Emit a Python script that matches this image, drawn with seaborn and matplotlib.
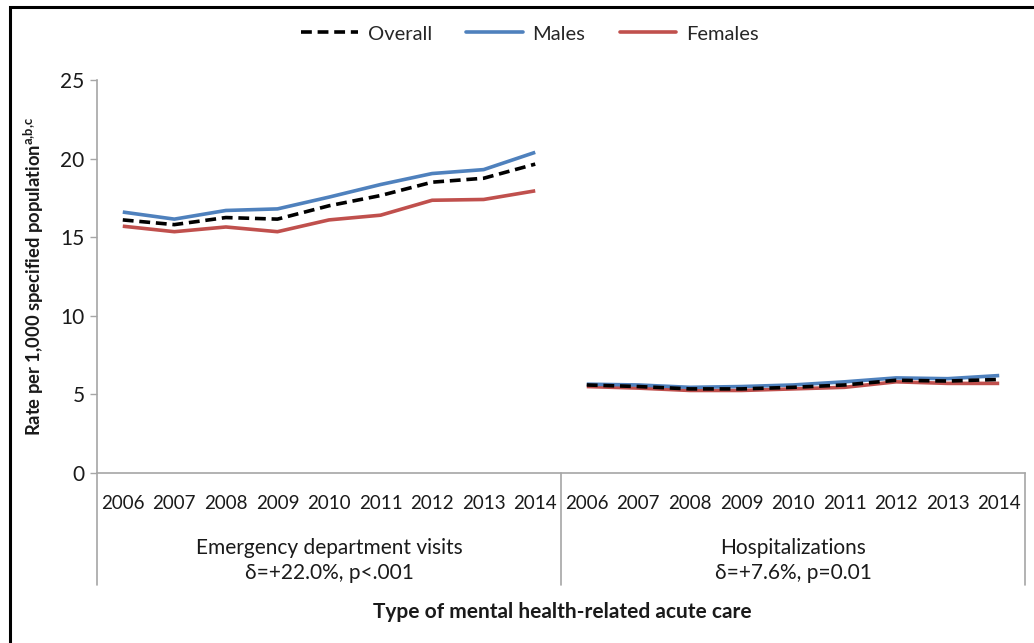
"""Mental health-related acute care rates by sex, 2006-2014."""

import matplotlib.pyplot as plt
from matplotlib.lines import Line2D
from matplotlib.patches import Rectangle
from matplotlib.transforms import blended_transform_factory
import pandas as pd
import seaborn as sns

# ── Data ─────────────────────────────────────────────────────────────
years = [2006, 2007, 2008, 2009, 2010, 2011, 2012, 2013, 2014]
groups = ["Emergency department visits", "Hospitalizations"]
group_notes = ["δ=+22.0%, p<.001", "δ=+7.6%, p=0.01"]
series = ["Overall", "Males", "Females"]

ed_overall = [16.1, 15.8, 16.25, 16.15, 17.0, 17.65, 18.5, 18.75, 19.65]
ed_males = [16.6, 16.15, 16.7, 16.8, 17.55, 18.35, 19.05, 19.3, 20.4]
ed_females = [15.7, 15.35, 15.65, 15.35, 16.1, 16.4, 17.35, 17.4, 17.95]

hosp_overall = [5.6, 5.5, 5.35, 5.35, 5.45, 5.6, 5.9, 5.85, 5.95]
hosp_males = [5.65, 5.6, 5.45, 5.5, 5.6, 5.8, 6.05, 6.0, 6.2]
hosp_females = [5.5, 5.4, 5.25, 5.25, 5.35, 5.45, 5.8, 5.7, 5.7]

values = {
    (groups[0], "Overall"): ed_overall,
    (groups[0], "Males"): ed_males,
    (groups[0], "Females"): ed_females,
    (groups[1], "Overall"): hosp_overall,
    (groups[1], "Males"): hosp_males,
    (groups[1], "Females"): hosp_females,
}

# ── Styling ──────────────────────────────────────────────────────────
COLORS = {"Overall": "black", "Males": "#4F81BD", "Females": "#C0504D"}
DASHES = {"Overall": (3, 1.6), "Males": "", "Females": ""}
GRAY = "#A6A6A6"
TXT = "#1a1a1a"
FONT = ["Lato", "DejaVu Sans"]

sns.set_theme(style="white")
plt.rcParams["font.family"] = FONT

rows = []
for gi, g in enumerate(groups):
    for s in series:
        for yi, (yr, v) in enumerate(zip(years, values[(g, s)])):
            rows.append({"group": g, "series": s, "pos": gi * len(years) + yi,
                         "year": yr, "rate": v})
df = pd.DataFrame(rows)

fig = plt.figure(figsize=(10.34, 6.43), dpi=100)
ax = fig.add_axes([97 / 1034, 1 - 473 / 643, 928 / 1034, 393 / 643])

# females, males, then overall on top; one line per (series, group)
for s in ["Females", "Males", "Overall"]:
    for g in groups:
        sub = df[(df["series"] == s) & (df["group"] == g)]
        sns.lineplot(data=sub, x="pos", y="rate", ax=ax, color=COLORS[s],
                     linewidth=2.6, estimator=None, legend=False,
                     dashes=False)
        line = ax.lines[-1]
        if DASHES[s]:
            line.set_dashes(DASHES[s])
        line.set_solid_capstyle("butt")

n = len(years) * len(groups)
ax.set_xlim(-0.5, n - 0.5)
ax.set_ylim(0, 25)
ax.set_yticks(range(0, 26, 5))
ax.tick_params(axis="y", length=5, width=1, color=GRAY, direction="out",
               labelsize=15, labelcolor=TXT, pad=4, left=True)
ax.set_xticks(range(n))
ax.set_xticklabels([str(y) for y in years] * len(groups))
ax.tick_params(axis="x", length=0, labelsize=13.5, labelcolor=TXT, pad=16)
ax.set_xlabel("")

for sp in ("top", "right"):
    ax.spines[sp].set_visible(False)
for sp in ("left", "bottom"):
    ax.spines[sp].set_color(GRAY)
    ax.spines[sp].set_linewidth(1.2)

# group divider lines below the category axis
trans = blended_transform_factory(ax.transData, ax.transAxes)
for xd in [-0.5, len(years) - 0.5, n - 0.5]:
    ax.add_line(Line2D([xd, xd], [0, -112 / 393], transform=trans,
                       color=GRAY, linewidth=1.2, clip_on=False))

for gi, (g, note) in enumerate(zip(groups, group_notes)):
    xc = gi * len(years) + (len(years) - 1) / 2
    ax.text(xc, -75 / 393, g, transform=trans, ha="center", va="center",
            fontsize=15, color=TXT)
    ax.text(xc, -100 / 393, note, transform=trans, ha="center", va="center",
            fontsize=15, color=TXT)

ax.set_ylabel("Rate per 1,000 specified population$^{\\mathregular{a{,}b{,}c}}$",
              fontsize=13.2, fontweight="bold", color=TXT, labelpad=10)
fig.text(562 / 1034, 1 - 612 / 643, "Type of mental health-related acute care",
         ha="center", va="center", fontsize=15, fontweight="bold", color=TXT)

handles = [Line2D([], [], color=COLORS[s], linewidth=2.6,
                  dashes=DASHES[s] if DASHES[s] else (None, None)) for s in series]
fig.legend(handles, series, loc="center", bbox_to_anchor=(530 / 1034, 1 - 34 / 643),
           ncol=3, frameon=False, fontsize=14.5, handlelength=2.8,
           columnspacing=1.7, handletextpad=0.5)

# outer frame (top and left edges visible, rest cropped)
fig.patches.append(Rectangle((10 / 1034, -0.1), 1.2, 1 - 7 / 643 + 0.1,
                             transform=fig.transFigure, fill=False,
                             edgecolor="black", linewidth=2.2))

fig.savefig("out.png", dpi=100, facecolor="white")
